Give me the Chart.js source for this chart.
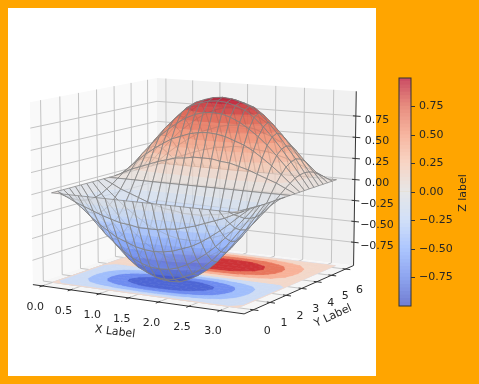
<!DOCTYPE html>
<html>
<head>
<meta charset="utf-8">
<script src="https://cdn.jsdelivr.net/npm/chart.js@4"></script>
<style>
    html, body { margin: 0; padding: 0; background: #ffa500; overflow: hidden; }
    canvas { position: absolute; top: 0; }
    #surfaceChart { left: 0; }
    #colorbarChart { left: 390px; }
</style>
</head>
<body>
<canvas id="surfaceChart" width="479" height="384"></canvas>
<canvas id="colorbarChart" width="89" height="384"></canvas>
<script>
// Values
const xValues = [0, 0.16, 0.31, 0.47, 0.63, 0.79, 0.94, 1.10, 1.26, 1.41, 1.57, 1.73, 1.88, 2.04, 2.20, 2.36, 2.51, 2.67, 2.83, 2.98, 3.14];
const yValues = [0, 0.31, 0.63, 0.94, 1.26, 1.57, 1.88, 2.20, 2.51, 2.83, 3.14, 3.46, 3.77, 4.08, 4.40, 4.71, 5.03, 5.34, 5.65, 5.97, 6.28];
const zRows = [
    [0, 0, 0, 0, 0, 0, 0, 0, 0, 0, 0, 0, 0, 0, 0, 0, 0, 0, 0, 0, 0],
    [0, -.05, -.10, -.14, -.18, -.22, -.25, -.28, -.29, -.31, -.31, -.31, -.29, -.28, -.25, -.22, -.18, -.14, -.10, -.05, 0],
    [0, -.09, -.18, -.27, -.35, -.42, -.48, -.52, -.56, -.58, -.59, -.58, -.56, -.52, -.48, -.42, -.35, -.27, -.18, -.09, 0],
    [0, -.13, -.25, -.37, -.48, -.57, -.65, -.72, -.77, -.80, -.81, -.80, -.77, -.72, -.65, -.57, -.48, -.37, -.25, -.13, 0],
    [0, -.15, -.29, -.43, -.56, -.67, -.77, -.85, -.90, -.94, -.95, -.94, -.90, -.85, -.77, -.67, -.56, -.43, -.29, -.15, 0],
    [0, -.16, -.31, -.45, -.59, -.71, -.81, -.89, -.95, -.99, -1, -.99, -.95, -.89, -.81, -.71, -.59, -.45, -.31, -.16, 0],
    [0, -.15, -.29, -.43, -.56, -.67, -.77, -.85, -.90, -.94, -.95, -.94, -.90, -.85, -.77, -.67, -.56, -.43, -.29, -.15, 0],
    [0, -.13, -.25, -.37, -.48, -.57, -.65, -.72, -.77, -.80, -.81, -.80, -.77, -.72, -.65, -.57, -.48, -.37, -.25, -.13, 0],
    [0, -.09, -.18, -.27, -.35, -.42, -.48, -.52, -.56, -.58, -.59, -.58, -.56, -.52, -.48, -.42, -.35, -.27, -.18, -.09, 0],
    [0, -.05, -.10, -.14, -.18, -.22, -.25, -.28, -.29, -.31, -.31, -.31, -.29, -.28, -.25, -.22, -.18, -.14, -.10, -.05, 0],
    [0, 0, 0, 0, 0, 0, 0, 0, 0, 0, 0, 0, 0, 0, 0, 0, 0, 0, 0, 0, 0],
    [0, .05, .10, .14, .18, .22, .25, .28, .29, .31, .31, .31, .29, .28, .25, .22, .18, .14, .10, .05, 0],
    [0, .09, .18, .27, .35, .42, .48, .52, .56, .58, .59, .58, .56, .52, .48, .42, .35, .27, .18, .09, 0],
    [0, .13, .25, .37, .48, .57, .65, .72, .77, .80, .81, .80, .77, .72, .65, .57, .48, .37, .25, .13, 0],
    [0, .15, .29, .43, .56, .67, .77, .85, .89, .92, .93, .92, .89, .85, .77, .67, .56, .43, .29, .15, 0],
    [0, .16, .31, .45, .59, .71, .81, .88, .92, .95, .96, .95, .92, .88, .81, .71, .59, .45, .31, .16, 0],
    [0, .15, .29, .43, .56, .67, .77, .85, .89, .92, .93, .92, .89, .85, .77, .67, .56, .43, .29, .15, 0],
    [0, .13, .25, .37, .48, .57, .65, .72, .77, .80, .81, .80, .77, .72, .65, .57, .48, .37, .25, .13, 0],
    [0, .09, .18, .27, .35, .42, .48, .52, .56, .58, .59, .58, .56, .52, .48, .42, .35, .27, .18, .09, 0],
    [0, .05, .10, .14, .18, .22, .25, .28, .29, .31, .31, .31, .29, .28, .25, .22, .18, .14, .10, .05, 0],
    [0, 0, 0, 0, 0, 0, 0, 0, 0, 0, 0, 0, 0, 0, 0, 0, 0, 0, 0, 0, 0]
];
const xTicks = [0, 0.5, 1, 1.5, 2, 2.5, 3];
const yTicks = [0, 1, 2, 3, 4, 5, 6];
const zTicks = [-0.75, -0.5, -0.25, 0, 0.25, 0.5, 0.75];
const floorLevels = [-1, -0.75, -0.5, -0.25, 0, 0.25, 0.5, 0.75, 1];
const surfaceLevels = [-1, -0.9, -0.8, -0.7, -0.6, -0.5, -0.4, -0.3, -0.2, -0.1, 0, 0.1, 0.2, 0.3, 0.4, 0.5, 0.6, 0.7, 0.8, 0.9, 1];
const floorColors = ["#4e66d5", "#6e8cf0", "#a0befc", "#cddcf5", "#f3d8ca", "#f8b298", "#e8765c", "#cd3237"];
const colormapStops = [[59, 76, 192], [98, 130, 234], [141, 176, 254], [192, 212, 245], [221, 221, 221], [245, 196, 173], [244, 152, 122], [222, 96, 77], [180, 4, 38]];

const xLim = [-0.17, 3.38];
const yLim = [-0.54, 6.58];
const zLim = [-1.03, 1.04];

// Camera, same idea as a matplotlib 3D axes
const elev = 10 * Math.PI / 180;
const azim = -60 * Math.PI / 180;
const dist = 9;
const box = [1.19, 1.19, 0.91];
const screen = { cx: 197, cy: 186.5, s: 1790 };
const w = [Math.cos(elev) * Math.cos(azim), Math.cos(elev) * Math.sin(azim), Math.sin(elev)];
const u = [-w[1] / Math.cos(elev), w[0] / Math.cos(elev), 0];
const v = [w[1] * u[2] - w[2] * u[1], w[2] * u[0] - w[0] * u[2], w[0] * u[1] - w[1] * u[0]];

const dot = (a, b) => a[0] * b[0] + a[1] * b[1] + a[2] * b[2];

const project = (x, y, z) => {
    const p = [
        ((x - xLim[0]) / (xLim[1] - xLim[0]) - 0.5) * box[0],
        ((y - yLim[0]) / (yLim[1] - yLim[0]) - 0.5) * box[1],
        ((z - zLim[0]) / (zLim[1] - zLim[0]) - 0.5) * box[2]
    ];
    const depth = dist - dot(w, p);
    return {
        x: screen.cx + screen.s * dot(u, p) / depth,
        y: screen.cy - screen.s * dot(v, p) / depth,
        depth: depth
    };
};

// Colormap lookup, t in 0..1
const colormap = (t) => {
    const pos = Math.min(Math.max(t, 0), 1) * (colormapStops.length - 1);
    const i = Math.min(Math.floor(pos), colormapStops.length - 2);
    const f = pos - i;
    return colormapStops[i].map((c, k) => c + (colormapStops[i + 1][k] - c) * f);
};
const rgba = (c, a) => `rgba(${Math.round(c[0])}, ${Math.round(c[1])}, ${Math.round(c[2])}, ${a})`;

// Cut a grid cell down to the part between two z levels
const clipBelow = (poly, level, keepAbove) => {
    const out = [];
    poly.forEach((a, i) => {
        const b = poly[(i + 1) % poly.length];
        const aIn = keepAbove ? a.z >= level : a.z <= level;
        const bIn = keepAbove ? b.z >= level : b.z <= level;
        if (aIn) out.push(a);
        if (aIn !== bIn) {
            const f = (level - a.z) / (b.z - a.z);
            out.push({ x: a.x + (b.x - a.x) * f, y: a.y + (b.y - a.y) * f, z: level });
        }
    });
    return out;
};
const clipBand = (poly, lo, hi) => {
    const above = clipBelow(poly, lo, true);
    return above.length ? clipBelow(above, hi, false) : above;
};

// Everything is pushed in paint order and reversed at the end
const datasets = [];
const addShape = (points, opts) => {
    datasets.push({
        data: points.map(p => ({ x: p.x, y: p.y })),
        showLine: true,
        tension: 0,
        pointRadius: 0,
        fill: opts.fill ? "shape" : false,
        backgroundColor: opts.fill || "transparent",
        borderColor: opts.stroke || "transparent",
        borderWidth: opts.width || 0
    });
};
const close3d = (pts) => [...pts, pts[0]].map(p => project(p.x, p.y, p.z));
const line3d = (a, b, stroke, width) => addShape([project(...a), project(...b)], { stroke, width });

// Panes
const [x0, x1] = xLim, [y0, y1] = yLim, [z0, z1] = zLim;
const pane = (pts, fill) => addShape(close3d(pts.map(p => ({ x: p[0], y: p[1], z: p[2] }))), { fill });
pane([[x0, y0, z0], [x0, y1, z0], [x0, y1, z1], [x0, y0, z1]], "#f9f9f9");
pane([[x0, y1, z0], [x1, y1, z0], [x1, y1, z1], [x0, y1, z1]], "#f1f1f1");
pane([[x0, y0, z0], [x1, y0, z0], [x1, y1, z0], [x0, y1, z0]], "#f6f6f6");

// Grid lines on the panes
const gridColor = "#c4c4c4";
xTicks.forEach(t => {
    line3d([t, y0, z0], [t, y1, z0], gridColor, 1);
    line3d([t, y1, z0], [t, y1, z1], gridColor, 1);
});
yTicks.forEach(t => {
    line3d([x0, t, z0], [x1, t, z0], gridColor, 1);
    line3d([x0, t, z0], [x0, t, z1], gridColor, 1);
});
zTicks.forEach(t => {
    line3d([x0, y0, t], [x0, y1, t], gridColor, 1);
    line3d([x0, y1, t], [x1, y1, t], gridColor, 1);
});

// Axis lines and tick marks
const axisColor = "#333333";
line3d([x0, y0, z0], [x1, y0, z0], axisColor, 1);
line3d([x1, y0, z0], [x1, y1, z0], axisColor, 1);
line3d([x1, y1, z0], [x1, y1, z1], axisColor, 1);
xTicks.forEach(t => line3d([t, y0 + 0.1, z0], [t, y0 - 0.15, z0], axisColor, 1));
yTicks.forEach(t => line3d([x1 - 0.05, t, z0], [x1 + 0.08, t, z0], axisColor, 1));
zTicks.forEach(t => line3d([x1 - 0.05, y1, t], [x1 + 0.08, y1, t], axisColor, 1));

// Build the cells of the grid once
const cells = [];
for (let j = 0; j < yValues.length - 1; j++) {
    for (let i = 0; i < xValues.length - 1; i++) {
        cells.push([
            { x: xValues[i], y: yValues[j], z: zRows[j][i] },
            { x: xValues[i + 1], y: yValues[j], z: zRows[j][i + 1] },
            { x: xValues[i + 1], y: yValues[j + 1], z: zRows[j + 1][i + 1] },
            { x: xValues[i], y: yValues[j + 1], z: zRows[j + 1][i] }
        ]);
    }
}

// Filled contours on the floor
floorLevels.slice(0, -1).forEach((lo, k) => {
    const hi = floorLevels[k + 1];
    const color = floorColors[k];
    cells.forEach(cell => {
        const part = clipBand(cell, lo, hi);
        if (part.length > 2) {
            addShape([...part, part[0]].map(p => project(p.x, p.y, z0)), { fill: color, stroke: color, width: 0.6 });
        }
    });
});

// Surface, far cells first, colour bands cut by z level, wire on top
const cellDepth = (cell) => cell.reduce((sum, p) => sum + project(p.x, p.y, p.z).depth, 0) / 4;
const sorted = cells.map(cell => ({ cell, depth: cellDepth(cell) })).sort((a, b) => b.depth - a.depth);
sorted.forEach(({ cell }) => {
    surfaceLevels.slice(0, -1).forEach((lo, k) => {
        const hi = surfaceLevels[k + 1];
        const part = clipBand(cell, lo, hi);
        if (part.length > 2) {
            addShape(close3d(part), { fill: rgba(colormap(((lo + hi) / 2 + 1) / 2), 0.7) });
        }
    });
    addShape(close3d(cell), { stroke: "rgba(128, 128, 128, 0.7)", width: 1 });
});

const fontFamily = "'DejaVu Sans', sans-serif";
const textColor = "#262626";
const tickText = (t, digits) => (t < 0 ? "\u2212" : "") + Math.abs(t).toFixed(digits);

const rotatedText = (ctx, chart, text, px, py, angle) => {
    ctx.save();
    ctx.translate(chart.scales.x.getPixelForValue(px), chart.scales.y.getPixelForValue(py));
    ctx.rotate(angle * Math.PI / 180);
    ctx.fillText(text, 0, 0);
    ctx.restore();
};

// White axes background and the 3D tick labels, the scales themselves stay hidden
const surfacePlugin = {
    id: "surfacePlugin",
    beforeDraw(chart) {
        const { ctx } = chart;
        ctx.save();
        ctx.fillStyle = "#ffffff";
        ctx.fillRect(8, 8, 368, 368);
        ctx.restore();
    },
    afterDraw(chart) {
        const { ctx } = chart;
        ctx.save();
        ctx.font = `11px ${fontFamily}`;
        ctx.fillStyle = textColor;
        ctx.textAlign = "center";
        ctx.textBaseline = "middle";
        xTicks.forEach(t => {
            const p = project(t, y0, z0);
            rotatedText(ctx, chart, tickText(t, 1), p.x - 7, p.y + 21, 0);
        });
        yTicks.forEach(t => {
            const p = project(x1, t, z0);
            rotatedText(ctx, chart, tickText(t, 0), p.x + 14, p.y + 21, 0);
        });
        zTicks.forEach(t => {
            const p = project(x1, y1, t);
            rotatedText(ctx, chart, tickText(t, 2), 377, p.y + 4, 0);
        });
        rotatedText(ctx, chart, "X Label", 115, 332, 7);
        rotatedText(ctx, chart, "Y Label", 333, 316, -25);
        ctx.restore();
    }
};

new Chart(document.getElementById("surfaceChart"), {
    type: "scatter",
    data: { datasets: datasets.reverse() },
    options: {
        responsive: false,
        animation: false,
        events: [],
        layout: { padding: 0 },
        plugins: { legend: { display: false }, tooltip: { enabled: false } },
        scales: {
            x: { type: "linear", display: false, min: 0, max: 479 },
            y: { type: "linear", display: false, min: 0, max: 384, reverse: true }
        }
    },
    plugins: [surfacePlugin]
});

// Colour bar
const barEdges = [];
for (let k = 0; k <= 64; k++) barEdges.push(-1 + k / 32);
const barColor = (z) => {
    const c = colormap((z + 1) / 2);
    return rgba(c.map(ch => ch * 0.72 + 255 * 0.28), 1);
};
const barSets = barEdges.slice(0, -1).map((lo, k) => ({
    data: [[lo, barEdges[k + 1] + 0.003]],
    backgroundColor: barColor((lo + barEdges[k + 1]) / 2),
    borderWidth: 0,
    barPercentage: 1,
    categoryPercentage: 1,
    grouped: false
}));

const colorbarPlugin = {
    id: "colorbarPlugin",
    afterDraw(chart) {
        const { ctx, chartArea } = chart;
        ctx.save();
        ctx.strokeStyle = axisColor;
        ctx.lineWidth = 1;
        ctx.strokeRect(chartArea.left, chartArea.top, chartArea.right - chartArea.left, chartArea.bottom - chartArea.top);
        ctx.translate(73, (chartArea.top + chartArea.bottom) / 2 + 1);
        ctx.rotate(-Math.PI / 2);
        ctx.font = `11px ${fontFamily}`;
        ctx.fillStyle = textColor;
        ctx.textAlign = "center";
        ctx.textBaseline = "middle";
        ctx.fillText("Z label", 0, 0);
        ctx.restore();
    }
};

new Chart(document.getElementById("colorbarChart"), {
    type: "bar",
    data: { labels: [""], datasets: barSets },
    options: {
        responsive: false,
        animation: false,
        events: [],
        layout: { padding: { left: 9, top: 78, bottom: 78, right: 0 } },
        plugins: { legend: { display: false }, tooltip: { enabled: false } },
        scales: {
            x: { display: false },
            y: {
                position: "right",
                min: -1,
                max: 1,
                afterFit: (scale) => { scale.width = 68; },
                afterBuildTicks: (scale) => { scale.ticks = zTicks.map(value => ({ value })); },
                border: { display: false },
                grid: { drawOnChartArea: false, drawTicks: true, tickLength: 4, tickColor: axisColor },
                ticks: {
                    color: textColor,
                    padding: 4,
                    font: { family: fontFamily, size: 11 },
                    callback: (value) => tickText(value, 2)
                }
            }
        }
    },
    plugins: [colorbarPlugin]
});
</script>
</body>
</html>
